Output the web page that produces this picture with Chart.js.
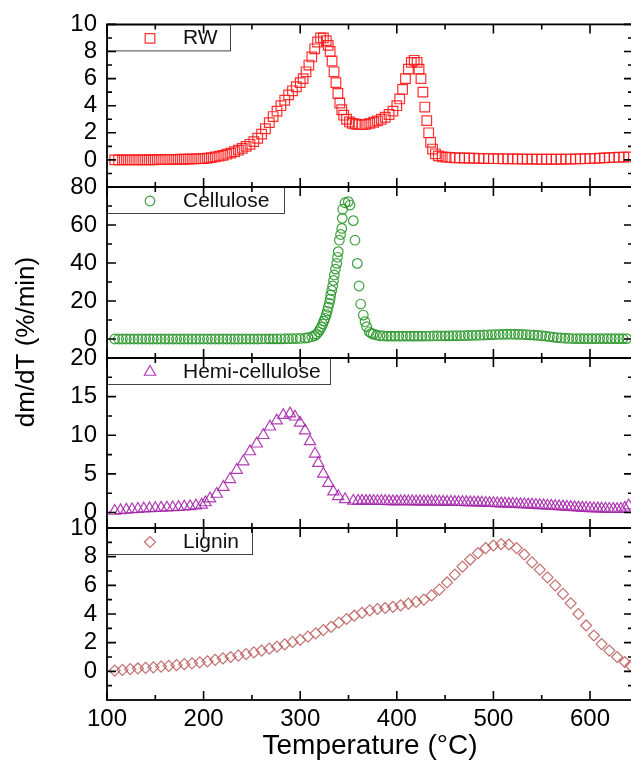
<!DOCTYPE html>
<html lang="en">
<head>
<meta charset="UTF-8">
<title>DTG curves</title>
<script src="https://cdn.jsdelivr.net/npm/chart.js@4"></script>
<style>
  html, body { margin: 0; padding: 0; background: #fff; overflow: hidden; }
  #wrap { position: relative; width: 631px; height: 769px; overflow: hidden; }
  #wrap canvas { position: absolute; left: 0; top: 0; }
</style>
</head>
<body>
<div id="wrap">
  <canvas id="c1" width="633" height="769"></canvas>
  <canvas id="c2" width="633" height="769"></canvas>
  <canvas id="c3" width="633" height="769"></canvas>
  <canvas id="c4" width="633" height="769"></canvas>
</div>
<script>
// x axis
const xTicks = [100, 200, 300, 400, 500, 600];
const xMinor = [150, 250, 350, 450, 550];
const xTitle = 'Temperature (°C)';
const yTitle = 'dm/dT (%/min)';

// RW
const rwTemp = [108,112,116,120,124,128,132,136,140,
  144,148,152,156,160,164,168,172,176,180,184,188,192,196,
  200,204,208,212,216,220,224,228,232,236,240,244,248,252,256,260,264,268,272,276,280,284,288,292,296,
  300,303,306,309,312,315,318,321,324,327,
  329,331,333,335,337,339,341,343,345,
  348,351,354,357,360,
  364,368,372,376,380,384,388,392,396,400,
  403,406,409,412,415,418,
  421,423,425,427,429,431,433,435,437,
  440,443,447,451,455,
  460,465,470,475,480,485,490,495,500,505,510,515,520,525,530,535,540,545,550,555,
  560,565,570,575,580,585,590,595,600,605,610,615,620,625,630,635,640];
const rwRate = [0,0,0,0,0,0,0,0,0,
  0.01,0.01,0.02,0.02,0.03,0.03,0.04,0.04,0.05,0.05,0.06,0.07,0.08,0.09,
  0.1,0.13,0.17,0.22,0.28,0.34,0.42,0.5,0.6,0.72,0.85,1.0,1.15,1.35,1.6,1.9,2.3,2.75,3.2,3.6,4.0,4.4,4.8,5.1,5.4,
  5.7,6.0,6.5,7.0,7.6,8.2,8.7,9.0,9.0,8.8,
  8.45,8.0,7.3,6.5,5.7,4.9,4.2,3.7,3.3,
  3.0,2.8,2.7,2.65,2.6,
  2.6,2.62,2.7,2.78,2.88,3.0,3.15,3.35,3.6,4.0,
  4.5,5.2,6.0,6.7,7.2,7.35,
  7.2,6.7,6.0,5.0,3.9,2.9,2.0,1.3,0.8,
  0.45,0.3,0.22,0.2,0.18,
  0.16,0.15,0.14,0.13,0.12,0.11,0.1,0.1,0.09,0.09,0.08,0.08,0.07,0.07,0.06,0.06,0.06,0.05,0.05,0.05,
  0.05,0.05,0.05,0.06,0.06,0.07,0.08,0.09,0.1,0.11,0.13,0.15,0.17,0.18,0.2,0.21,0.22];
const rwTicks = [0, 2, 4, 6, 8, 10];
const rwMinor = [-1, 1, 3, 5, 7, 9];

// Cellulose
const celTemp = [108,112,116,120,124,128,132,136,140,144,148,152,156,160,164,168,172,176,180,184,
  188,192,196,200,204,208,212,216,220,224,228,232,236,240,244,248,252,256,
  260,264,268,272,276,280,284,288,292,296,300,
  305,308,312,315,317,319,320.5,322,323.3,324.5,325.7,327,328,329,330.1,331,331.6,332.6,333.6,334.5,
  335.3,336.5,337.8,338.6,339.4,340.5,341.8,343,343.5,344,346.4,349.8,351.6,355,356.7,359.1,360.9,
  362.6,365.3,367.1,368.8,371.5,373.5,375.7,379,382.6,386,
  390,394,398,402,406,410,414,418,422,426,
  430,434,438,442,446,450,454,458,462,466,
  470,474,478,482,486,490,494,498,502,506,
  510,514,518,522,526,530,534,538,542,546,
  550,554,558,562,566,570,574,578,582,586,
  590,594,598,602,606,610,614,618,622,626,
  630,634,638];
const celRate = [0,0,0,0,0,0,0,0,0,0,0,0,0,0,0,0,0,0,0,0,
  0,0,0,0,0,0,0,0,0,0,0,0,0,0,0,0,0,0,
  0.02,0.03,0.05,0.07,0.09,0.1,0.13,0.16,0.2,0.25,0.3,
  0.45,0.7,1.2,1.8,2.6,3.8,5.1,6.4,7.9,9.4,10.9,12.8,14.7,16.7,18.8,21,23.2,25.5,27.9,30.8,
  33.7,36.8,39.8,43,46,52,55,58.2,63.5,68.3,71.7,72.3,70.5,62.3,52,39.8,27.9,
  18.4,12.6,9.1,6.5,3.8,3.0,2.6,2.1,1.7,1.6,
  1.5,1.5,1.5,1.5,1.5,1.5,1.5,1.5,1.5,1.5,
  1.55,1.55,1.6,1.6,1.6,1.65,1.65,1.7,1.7,1.75,
  1.8,1.85,1.9,1.95,2.0,2.1,2.2,2.3,2.35,2.4,
  2.45,2.5,2.5,2.5,2.45,2.4,2.3,2.2,2.05,1.9,
  1.7,1.5,1.25,1.0,0.75,0.55,0.4,0.3,0.25,0.2,
  0.2,0.2,0.2,0.2,0.2,0.2,0.2,0.2,0.2,0.2,
  0.2,0.2,0.2];
const celTicks = [0, 20, 40, 60, 80];
const celMinor = [10, 30, 50, 70];

// Hemi-cellulose
const hemiTemp = [108,114,120,126,132,138,144,150,156,162,168,174,180,186,192,198,202,
  206.6,213.6,220.4,227.3,234.3,241.1,248,255,261.8,268.7,275.7,282.5,289.4,294.6,299.8,305,
  310.1,315.3,318.7,323.9,329.1,334.3,339.4,346.4,355,
  360,364,368,372,376,380,384,388,392,396,
  400,404,408,412,416,420,424,428,432,436,
  440,444,448,452,456,460,464,468,472,476,
  480,484,488,492,496,500,504,508,512,516,
  520,524,528,532,536,540,544,548,552,556,
  560,564,568,572,576,580,584,588,592,596,
  600,604,608,612,616,620,624,628,632,636,
  640];
const hemiRate = [0.2,0.28,0.34,0.4,0.45,0.5,0.53,0.56,0.6,0.63,0.66,0.7,0.75,0.8,0.9,1.0,1.3,
  1.8,2.4,3.3,4.3,5.5,6.6,7.9,8.9,10.0,11.1,11.9,12.6,12.8,12.4,11.6,10.6,
  9.2,7.6,6.4,5.0,3.8,2.7,2.1,1.7,1.5,
  1.5,1.5,1.48,1.48,1.47,1.47,1.46,1.46,1.45,1.45,
  1.45,1.44,1.44,1.43,1.43,1.42,1.42,1.41,1.41,1.4,
  1.4,1.39,1.38,1.37,1.36,1.35,1.34,1.33,1.32,1.31,
  1.3,1.28,1.26,1.24,1.22,1.2,1.18,1.16,1.14,1.12,
  1.1,1.08,1.06,1.04,1.02,1.0,0.97,0.94,0.91,0.88,
  0.85,0.82,0.79,0.76,0.73,0.7,0.67,0.64,0.61,0.58,
  0.55,0.53,0.51,0.49,0.47,0.45,0.44,0.43,0.45,0.6,
  0.9];
const hemiTicks = [0, 5, 10, 15, 20];
const hemiMinor = [2.5, 7.5, 12.5, 17.5];

// Lignin
const ligTemp = [108,116,124,132,140,148,156,164,172,180,
  188,196,204,212,220,228,236,244,252,260,
  268,276,284,292,300,308,316,324,332,340,
  348,356,364,372,380,388,396,404,412,420,
  428,436,444,452,460,468,476,484,492,500,
  508,516,524,532,540,548,556,564,572,580,
  588,596,604,612,620,628,636,642];
const ligRate = [0.05,0.1,0.15,0.2,0.24,0.28,0.33,0.38,0.43,0.5,
  0.56,0.63,0.7,0.8,0.9,1.0,1.1,1.2,1.32,1.45,
  1.58,1.72,1.88,2.05,2.2,2.42,2.65,2.88,3.1,3.4,
  3.65,3.88,4.08,4.25,4.35,4.42,4.5,4.6,4.72,4.85,
  5.0,5.3,5.7,6.2,6.75,7.3,7.8,8.25,8.6,8.78,
  8.88,8.85,8.6,8.15,7.6,7.1,6.55,6.0,5.4,4.75,
  4.0,3.2,2.5,1.9,1.45,1.0,0.65,0.4];
const ligTicks = [0, 2, 4, 6, 8, 10];
const ligMinor = [-1, 1, 3, 5, 7, 9];

Chart.defaults.font.family = '"Liberation Sans", Arial, sans-serif';
Chart.defaults.color = '#000';

// frame with inward ticks on all four sides
const frameTicks = {
  id: 'frameTicks',
  afterDraw(chart, args, opts) {
    const {ctx, chartArea: a} = chart;
    const xs = chart.scales.x, ys = chart.scales.y;
    const seg = (x1, y1, x2, y2) => { ctx.moveTo(x1, y1); ctx.lineTo(x2, y2); };
    ctx.save();
    ctx.strokeStyle = '#000';
    ctx.lineWidth = 1.6;
    ctx.beginPath();
    xTicks.concat(xMinor).forEach(v => {
      const len = xTicks.includes(v) ? 9 : 5;
      const px = xs.getPixelForValue(v);
      seg(px, a.top, px, a.top + len);
      seg(px, a.bottom, px, a.bottom - len);
    });
    opts.major.concat(opts.minor).forEach(v => {
      const len = opts.major.includes(v) ? 9 : 5;
      const py = ys.getPixelForValue(v);
      seg(a.left, py, a.left + len, py);
      seg(a.right, py, a.right - len, py);
    });
    ctx.stroke();
    ctx.lineWidth = 1.8;
    ctx.strokeRect(a.left, a.top, a.right - a.left, a.bottom - a.top);
    ctx.restore();
  }
};

function marker(ctx, style, r, x, y) {
  ctx.beginPath();
  if (style === 'rect') {
    const s = r * Math.SQRT1_2;
    ctx.rect(x - s, y - s, 2 * s, 2 * s);
  } else if (style === 'circle') {
    ctx.arc(x, y, r, 0, Math.PI * 2);
  } else if (style === 'triangle') {
    ctx.moveTo(x, y - r);
    ctx.lineTo(x + r * 0.866, y + r * 0.5);
    ctx.lineTo(x - r * 0.866, y + r * 0.5);
    ctx.closePath();
  } else {
    ctx.moveTo(x - r, y); ctx.lineTo(x, y - r); ctx.lineTo(x + r, y); ctx.lineTo(x, y + r);
    ctx.closePath();
  }
  ctx.stroke();
}

// boxed legend in the top-left corner of each panel
const boxLegend = {
  id: 'boxLegend',
  afterDatasetsDraw(chart, args, opts) {
    const {ctx, chartArea: a} = chart;
    const ds = chart.data.datasets[0];
    const h = 26;
    ctx.save();
    ctx.fillStyle = '#fff';
    ctx.fillRect(a.left, a.top, opts.width, h);
    ctx.strokeStyle = '#444';
    ctx.lineWidth = 1;
    ctx.strokeRect(a.left + 0.5, a.top + 0.5, opts.width, h);
    ctx.strokeStyle = ds.borderColor;
    ctx.lineWidth = 1.2;
    marker(ctx, ds.pointStyle, ds.pointRadius, a.left + 43, a.top + h / 2 + 1);
    ctx.fillStyle = '#111';
    ctx.font = '21px "Liberation Sans", Arial, sans-serif';
    ctx.textBaseline = 'middle';
    ctx.fillText(ds.label, a.left + 76, a.top + h / 2 + 1);
    ctx.restore();
  }
};

const yTitlePlugin = {
  id: 'yTitle',
  afterDraw(chart, args, opts) {
    if (!opts.text) return;
    const ctx = chart.ctx;
    ctx.save();
    ctx.translate(27, 342);
    ctx.rotate(-Math.PI / 2);
    ctx.font = '26px "Liberation Sans", Arial, sans-serif';
    ctx.fillStyle = '#000';
    ctx.textAlign = 'center';
    ctx.textBaseline = 'middle';
    ctx.fillText(opts.text, 0, 0);
    ctx.restore();
  }
};

function panel(id, s) {
  const last = !!s.last;
  return new Chart(document.getElementById(id), {
    type: 'scatter',
    data: {
      datasets: [{
        label: s.label,
        data: s.temps.map((t, i) => ({x: t, y: s.rates[i]})),
        pointStyle: s.style,
        pointRadius: s.radius,
        borderWidth: 1.2,
        borderColor: s.color,
        backgroundColor: 'rgba(0,0,0,0)',
        showLine: false
      }]
    },
    options: {
      responsive: false,
      animation: false,
      devicePixelRatio: 1,
      events: [],
      layout: {autoPadding: false, padding: {left: 0, right: 0, top: s.top, bottom: last ? 0 : 769 - s.bottom}},
      plugins: {
        legend: {display: false},
        tooltip: {enabled: false},
        boxLegend: {width: s.legendW},
        frameTicks: {major: s.ticks, minor: s.minor},
        yTitle: {text: last ? yTitle : ''}
      },
      scales: {
        x: {
          type: 'linear', min: 100, max: 644.5, display: last,
          afterBuildTicks: sc => { sc.ticks = xTicks.map(v => ({value: v})); },
          afterFit: sc => { if (last) sc.height = 69; },
          grid: {display: false, drawTicks: false},
          border: {display: false},
          ticks: {color: '#000', font: {size: 24}, padding: 5, maxRotation: 0, autoSkip: false},
          title: {display: last, text: xTitle, color: '#000', font: {size: 28, lineHeight: 1}, padding: {top: 0, bottom: 9}}
        },
        y: {
          type: 'linear', min: s.min, max: s.max,
          afterBuildTicks: sc => { sc.ticks = s.ticks.map(v => ({value: v})); },
          afterFit: sc => { sc.width = 107; },
          grid: {display: false, drawTicks: false},
          border: {display: false},
          ticks: {color: '#000', font: {size: 24}, padding: 10, autoSkip: false}
        }
      }
    },
    plugins: [frameTicks, boxLegend, yTitlePlugin]
  });
}

panel('c1', {label: 'RW', temps: rwTemp, rates: rwRate, style: 'rect', radius: 6.8, color: 'rgba(255,25,25,0.9)',
  min: -2, max: 10, ticks: rwTicks, minor: rwMinor, top: 16, bottom: 187, legendW: 123});
panel('c2', {label: 'Cellulose', temps: celTemp, rates: celRate, style: 'circle', radius: 4.8, color: 'rgba(40,150,40,0.9)',
  min: -10, max: 80, ticks: celTicks, minor: celMinor, top: 187, bottom: 358, legendW: 177});
panel('c3', {label: 'Hemi-cellulose', temps: hemiTemp, rates: hemiRate, style: 'triangle', radius: 6.5, color: 'rgba(165,40,170,0.9)',
  min: -2, max: 20, ticks: hemiTicks, minor: hemiMinor, top: 358, bottom: 528, legendW: 223});
panel('c4', {label: 'Lignin', temps: ligTemp, rates: ligRate, style: 'rectRot', radius: 5.5, color: 'rgba(190,95,95,0.9)',
  min: -2, max: 10, ticks: ligTicks, minor: ligMinor, top: 528, bottom: 700, legendW: 145, last: true});
</script>
</body>
</html>
